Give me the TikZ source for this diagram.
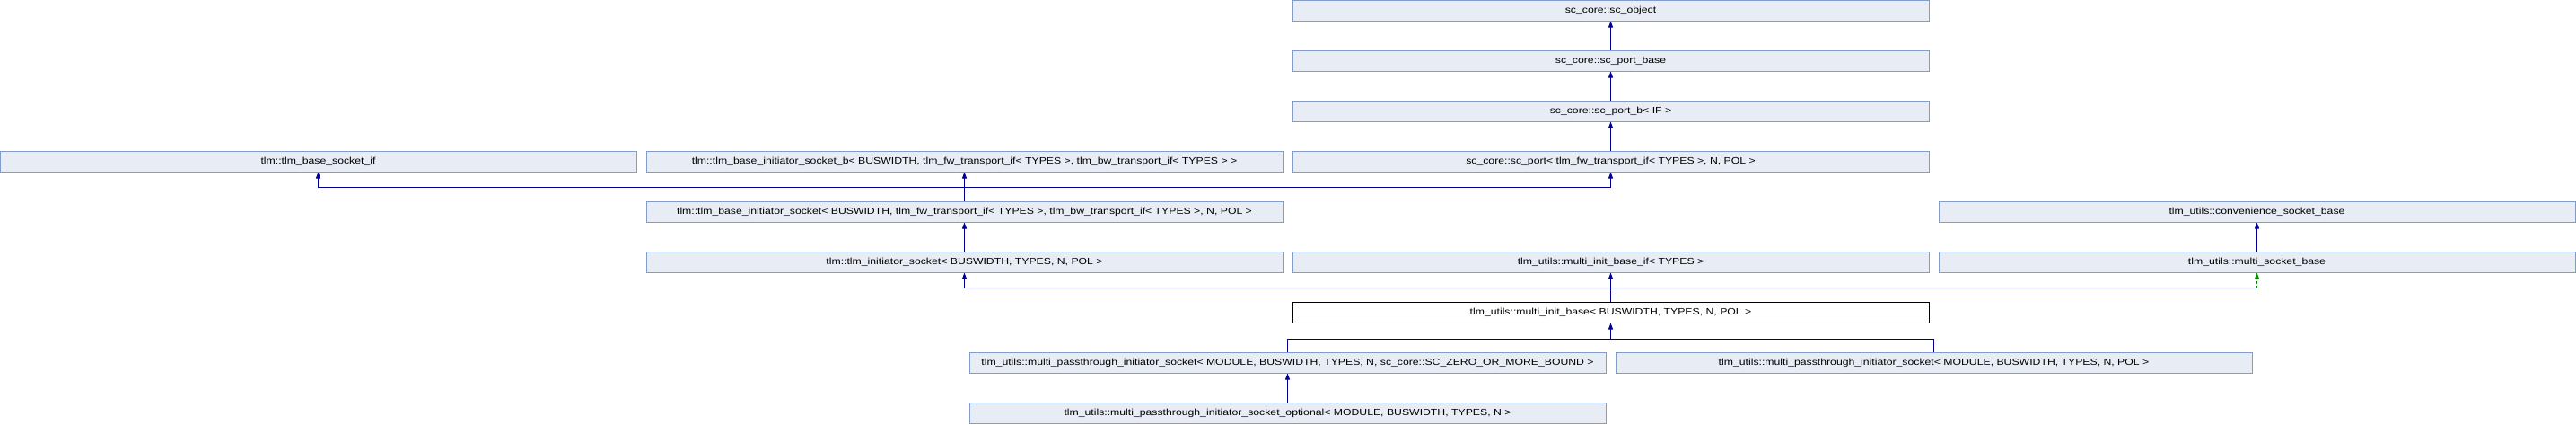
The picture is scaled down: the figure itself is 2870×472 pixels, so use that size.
\documentclass[tikz,border=0pt]{standalone}
\usepackage{fontspec}
\setmainfont{Liberation Sans}[FakeStretch=1.2]
\usetikzlibrary{arrows.meta,positioning}

\definecolor{boxfill}{RGB}{232,236,244}
\definecolor{boxline}{RGB}{132,156,204}
\definecolor{publine}{RGB}{0,0,140}
\definecolor{protline}{RGB}{0,140,0}

\begin{document}
\begin{tikzpicture}[x=1pt,y=-1pt,
        cls/.style={draw=boxline,fill=boxfill,line width=1pt,minimum width=709pt,minimum height=23pt,inner sep=0pt,font=\fontsize{10.2pt}{12pt}\selectfont},
        cur/.style={cls,draw=black,fill=white},
        link/.style={draw=publine,line width=1pt},
        inh/.style={link,-{Triangle[width=5pt,length=7pt]}},
        prot/.style={draw=protline,line width=1pt,dashed,dash pattern=on 3pt off 2pt,-{Triangle[width=5pt,length=7pt]}}]
        \useasboundingbox (0,0) rectangle (2870,472);

        \node[cls] (object) at (1794.5,11.5) {sc\_core::sc\_object};
        \node[cls] (portbase) at (1794.5,67.5) {sc\_core::sc\_port\_base};
        \node[cls] (portb) at (1794.5,123.5) {sc\_core::sc\_port\_b< IF >};

        \node[cls] (socketif) at (354.5,179.5) {tlm::tlm\_base\_socket\_if};
        \node[cls] (initsockb) at (1074.5,179.5) {tlm::tlm\_base\_initiator\_socket\_b< BUSWIDTH, tlm\_fw\_transport\_if< TYPES >, tlm\_bw\_transport\_if< TYPES > >};
        \node[cls] (port) at (1794.5,179.5) {sc\_core::sc\_port< tlm\_fw\_transport\_if< TYPES >, N, POL >};

        \node[cls] (initsock) at (1074.5,235.5) {tlm::tlm\_base\_initiator\_socket< BUSWIDTH, tlm\_fw\_transport\_if< TYPES >, tlm\_bw\_transport\_if< TYPES >, N, POL >};
        \node[cls] (convbase) at (2514.5,235.5) {tlm\_utils::convenience\_socket\_base};

        \node[cls] (initiator) at (1074.5,291.5) {tlm::tlm\_initiator\_socket< BUSWIDTH, TYPES, N, POL >};
        \node[cls] (multiinitif) at (1794.5,291.5) {tlm\_utils::multi\_init\_base\_if< TYPES >};
        \node[cls] (multisock) at (2514.5,291.5) {tlm\_utils::multi\_socket\_base};

        \node[cur] (multiinit) at (1794.5,347.5) {tlm\_utils::multi\_init\_base< BUSWIDTH, TYPES, N, POL >};

        \node[cls] (zerobound) at (1434.5,403.5) {tlm\_utils::multi\_passthrough\_initiator\_socket< MODULE, BUSWIDTH, TYPES, N, sc\_core::SC\_ZERO\_OR\_MORE\_BOUND >};
        \node[cls] (polsock) at (2154.5,403.5) {tlm\_utils::multi\_passthrough\_initiator\_socket< MODULE, BUSWIDTH, TYPES, N, POL >};

        \node[cls] (optional) at (1434.5,459.5) {tlm\_utils::multi\_passthrough\_initiator\_socket\_optional< MODULE, BUSWIDTH, TYPES, N >};

        % junction points of the bars
        \coordinate (barsock) at (1074.5,208);
        \coordinate (barinit) at (1794.5,320.5);
        \coordinate (barmulti) at (2514.5,320.5);
        \coordinate (barpass) at (1794.5,377);

        \draw[inh] (portbase) -- (object);
        \draw[inh] (portb) -- (portbase);
        \draw[inh] (port) -- (portb);

        \draw[link] (initsock.north) -- (barsock);
        \draw[inh] (barsock) -| (socketif.south);
        \draw[inh] (barsock) -- (initsockb.south);
        \draw[inh] (barsock) -| (port.south);

        \draw[inh] (initiator) -- (initsock);
        \draw[inh] (multisock) -- (convbase);

        \draw[link] (multiinit.north) -- (barinit);
        \draw[inh] (barinit) -| (initiator.south);
        \draw[inh] (barinit) -- (multiinitif.south);
        \draw[link] (barinit) -- (barmulti);
        \draw[prot] (barmulti) -- (multisock.south);

        \draw[link] (polsock.north) |- (barpass);
        \draw[inh] (zerobound.north) |- (barpass) -- (multiinit.south);

        \draw[inh] (optional) -- (zerobound);
    \end{tikzpicture}
\end{document}
